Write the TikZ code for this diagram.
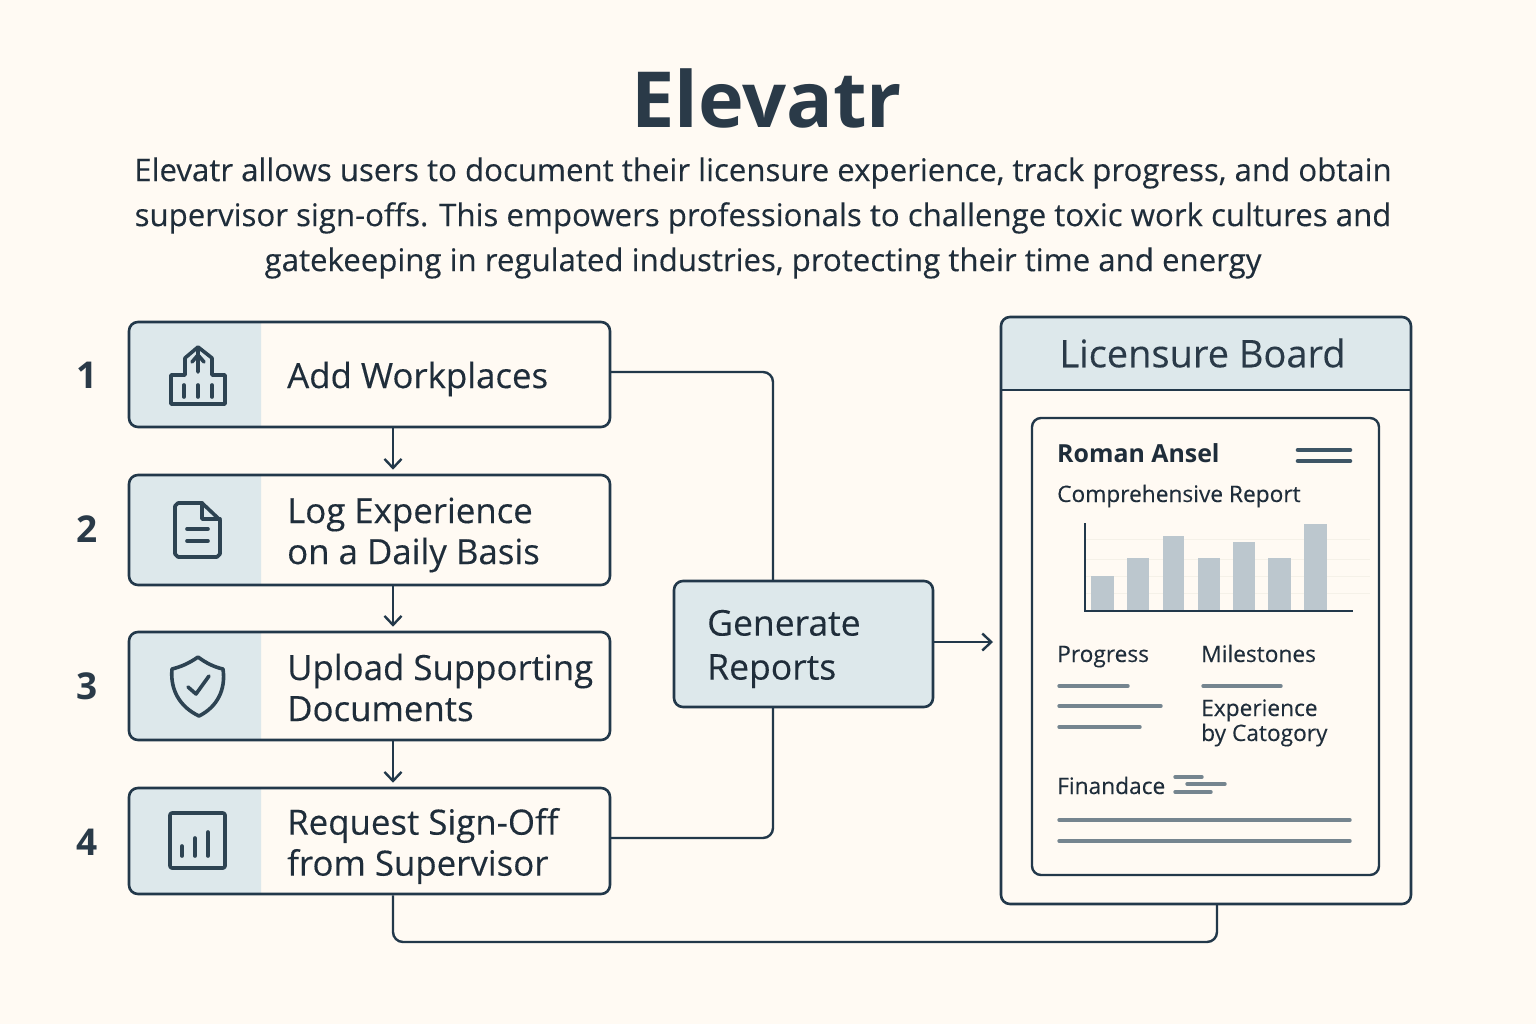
\documentclass[tikz,border=0pt]{standalone}
\usepackage{fontspec}
\setmainfont{Open Sans}
\definecolor{paper}{HTML}{FFFAF3}
\definecolor{ink}{HTML}{1F2D3A}
\definecolor{titleink}{HTML}{2A3A48}
\definecolor{edge}{HTML}{22384A}
\definecolor{pane}{HTML}{DDE8EB}
\definecolor{iconink}{HTML}{2D4352}
\definecolor{menuink}{HTML}{3E5565}
\definecolor{barfill}{HTML}{BCC7CE}
\definecolor{rulefill}{HTML}{75858F}
\definecolor{gridfill}{HTML}{F5F1E8}
\newcommand{\sizepx}[2]{\fontsize{#1}{#2}\selectfont}
\newcommand{\heavier}{\addfontfeatures{FakeBold=0.25}}
\usetikzlibrary{arrows.meta}
\tikzset{
  stepbox/.style={draw=edge,line width=2.6,rounded corners=9,minimum width=481,inner sep=0},
  steptext/.style={anchor=west,align=left,text=ink,font=\sizepx{34.8}{41}\heavier,inner sep=0},
  stepnum/.style={text=titleink,font=\sizepx{37}{37}\fontseries{sb}\selectfont,inner sep=0},
  wire/.style={draw=edge,line width=2.4,rounded corners=10},
  arrow/.style={draw=edge,line width=2.4,shorten >=4,-{Straight Barb[length=9,width=17,line width=2.4]}},
  icon/.style={draw=iconink,line width=3.6,line join=round,line cap=round},
  cardtext/.style={anchor=base west,text=ink,font=\sizepx{22.7}{25}\heavier,inner sep=0},
  rulebar/.style={draw=rulefill,line width=3.4,line cap=round},
  databar/.style={fill=barfill},
  gridline/.style={draw=gridfill,line width=1}
}
\begin{document}
\begin{tikzpicture}[x=1pt,y=-1pt]
  \fill[paper] (0,0) rectangle (1536,1024);
  \useasboundingbox (0,0) rectangle (1536,1024);
  % heading
  \node[text=titleink,font=\sizepx{77.4}{80}\bfseries,inner sep=0] (title) at (766.5,98) {Elevatr};
  \node[text=ink,font=\sizepx{31.2}{45}\heavier,align=center,inner sep=0] (intro) at (763,218)
    {Elevatr allows users to document their licensure experience, track progress, and obtain\\
     supervisor sign-offs. This empowers professionals to challenge toxic work cultures and\\
     gatekeeping in regulated industries, protecting their time and energy};
  % left panes
  \fill[pane] (261,322) [rounded corners=9] -- (129,322) -- (129,427) [sharp corners] -- (261,427) -- cycle;
  \fill[pane] (261,475) [rounded corners=9] -- (129,475) -- (129,585) [sharp corners] -- (261,585) -- cycle;
  \fill[pane] (261,632) [rounded corners=9] -- (129,632) -- (129,740) [sharp corners] -- (261,740) -- cycle;
  \fill[pane] (261,788) [rounded corners=9] -- (129,788) -- (129,894) [sharp corners] -- (261,894) -- cycle;
  % steps
  \node[stepbox,minimum height=105] (add) at (369.5,374.5) {};
  \node[stepbox,minimum height=110] (log) at (369.5,530) {};
  \node[stepbox,minimum height=108] (upload) at (369.5,686) {};
  \node[stepbox,minimum height=106] (request) at (369.5,841) {};
  \node[stepnum] (num1) at (87,375) {1};
  \node[stepnum] (num2) at (87,529) {2};
  \node[stepnum] (num3) at (87,686) {3};
  \node[stepnum] (num4) at (87,842) {4};
  \node[steptext] (addtext) at (287,379) {Add Workplaces};
  \node[steptext] (logtext) at (287,535) {Log Experience\\on a Daily Basis};
  \node[steptext] (uploadtext) at (287,687.5) {Upload Supporting\\Documents};
  \node[steptext] (requesttext) at (287,846) {Request Sign-Off\\from Supervisor};
  % icons
  \draw[icon] (171,404) -- (171,375) -- (185,375) -- (185,358) -- (198,347) -- (212,358) -- (212,375) -- (225,375) -- (225,404) -- cycle;
  \draw[icon] (198,372) -- (198,350) (192,362) -- (198,355) -- (204,362);
  \draw[icon] (184,385) -- (184,397) (198,385) -- (198,397) (212,385) -- (212,397);
  \draw[icon] (202,503) -- (178,503) -- (175,506) -- (175,554) -- (178,557) -- (217,557) -- (220,554) -- (220,520) -- cycle;
  \draw[icon] (202,503) -- (202,519) -- (220,519);
  \draw[icon] (187,529) -- (208,529) (187,541) -- (208,541);
  \draw[icon] (198,657) .. controls (188,664) and (180,667) .. (172,669) .. controls (170,690) and (180,707) .. (199,716) .. controls (217,707) and (226,690) .. (223,669) .. controls (214,667) and (206,663) .. (198,657) -- cycle;
  \draw[icon] (188,687) -- (196,694) -- (209,676);
  \draw[icon,rounded corners=2] (170,813) rectangle (225,868);
  \draw[icon] (182,846) -- (182,856) (195,838) -- (195,856) (208,832) -- (208,856);
  % licensure board
  \fill[pane] (1001,390) [rounded corners=9] -- (1001,317) -- (1411,317) [sharp corners] -- (1411,390) -- cycle;
  \node[draw=edge,line width=2.6,rounded corners=9,minimum width=410,minimum height=587,inner sep=0] (board) at (1206,610.5) {};
  \node[text=titleink,font=\sizepx{38}{40}\heavier,inner sep=0] (boardtitle) at (1202.5,353) {Licensure Board};
  \draw[draw=edge,line width=2.6] (1001,390) -- (1411,390);
  \node[draw=edge,line width=2.4,rounded corners=9,minimum width=347,minimum height=457,inner sep=0] (card) at (1205.5,646.5) {};
  \node[cardtext,font=\sizepx{24.9}{26}\fontseries{sb}\selectfont] (owner) at (1057,462) {Roman Ansel};
  \draw[draw=menuink,line width=4.6,line cap=round] (1298,450) -- (1350,450) (1298,461) -- (1350,461); %menu
  \node[cardtext] (report) at (1057,502) {Comprehensive Report};
  % chart
  \draw[gridline] (1086,539) -- (1370,539) (1086,559) -- (1370,559) (1086,576) -- (1370,576) (1086,593) -- (1370,593);
  \fill[databar] (1091,576) rectangle (1114,610);
  \fill[databar] (1127,558) rectangle (1149,610);
  \fill[databar] (1163,536) rectangle (1184,610);
  \fill[databar] (1198,558) rectangle (1220,610);
  \fill[databar] (1233,542) rectangle (1255,610);
  \fill[databar] (1268,558) rectangle (1291,610);
  \fill[databar] (1304,524) rectangle (1327,610);
  \draw[draw=edge,line width=1.8] (1085,523) -- (1085,611) -- (1353,611);
  % card details
  \node[cardtext] (progress) at (1057,662) {Progress};
  \node[cardtext] (milestones) at (1201,662) {Milestones};
  \draw[rulebar] (1059,686) -- (1128,686);
  \draw[rulebar] (1059,706) -- (1161,706);
  \draw[rulebar] (1059,727) -- (1140,727);
  \draw[rulebar] (1203,686) -- (1281,686);
  \node[cardtext] (experience) at (1201,716) {Experience};
  \node[cardtext] (category) at (1201,741) {by Catogory};
  \node[cardtext] (finance) at (1057,794) {Finandace};
  \draw[rulebar] (1175,777) -- (1202,777);
  \draw[rulebar] (1187,784) -- (1225,784);
  \draw[rulebar] (1175,792) -- (1211,792);
  \draw[rulebar] (1059,820) -- (1350,820);
  \draw[rulebar] (1059,841) -- (1350,841);
  % generate
  \node[draw=edge,line width=2.6,fill=pane,rounded corners=9,minimum width=259,minimum height=126,inner sep=0] (generate) at (803.5,644) {};
  \node[steptext,font=\sizepx{35.5}{44}\heavier] (generatetext) at (707,649) {Generate\\Reports};
  % connectors
  \coordinate (stepline) at (393,0);
  \coordinate (addout) at (610,372);
  \coordinate (requestout) at (610,838);
  \coordinate (genup) at (773,581);
  \coordinate (gendown) at (773,707);
  \coordinate (boardin) at (1217,904);
  \coordinate (boardout) at (993,642);
  \draw[arrow] (add.south -| stepline) -- (log.north -| stepline);
  \draw[arrow] (log.south -| stepline) -- (upload.north -| stepline);
  \draw[arrow] (upload.south -| stepline) -- (request.north -| stepline);
  \draw[wire] (addout) -| (genup);
  \draw[wire] (requestout) -| (gendown);
  \draw[arrow,shorten >=0] (generate.east |- boardout) -- (boardout);
  \draw[wire] (request.south -| stepline) |- (1217,942) -- (boardin);
\end{tikzpicture}
\end{document}
